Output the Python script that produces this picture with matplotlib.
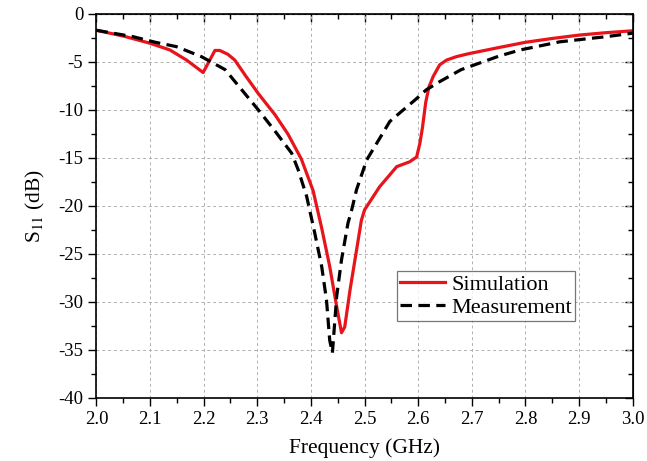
import numpy as np
import matplotlib.pyplot as plt
from matplotlib.ticker import MultipleLocator

# Simulation (red, solid)
sim_freq = [2.000, 2.050, 2.100, 2.137, 2.168, 2.199, 2.221, 2.230, 2.245, 2.258,
            2.277, 2.302, 2.333, 2.357, 2.382, 2.404, 2.420, 2.435, 2.448,
            2.457, 2.463, 2.473, 2.485, 2.494, 2.500, 2.528, 2.560, 2.584, 2.597,
            2.603, 2.608, 2.614, 2.620, 2.628, 2.640, 2.653, 2.671, 2.693, 2.750,
            2.800, 2.850, 2.900, 2.950, 3.000]
sim_s11 = [-1.7, -2.3, -3.05, -3.75, -4.8, -6.1, -3.8, -3.8, -4.2, -4.8,
           -6.35, -8.3, -10.5, -12.5, -15.1, -18.4, -22.3, -26.3, -30.5,
           -33.2, -32.6, -28.7, -24.6, -21.5, -20.4, -18.0, -15.9, -15.4, -14.9,
           -13.5, -11.8, -9.2, -7.6, -6.5, -5.3, -4.8, -4.45, -4.15, -3.5,
           -2.95, -2.55, -2.2, -1.95, -1.75]

# Measurement (black, dashed)
meas_freq = [2.000, 2.068, 2.110, 2.149, 2.196, 2.240, 2.271, 2.302, 2.333, 2.364,
             2.376, 2.392, 2.407, 2.420, 2.429, 2.435, 2.440, 2.448, 2.457, 2.469,
             2.476, 2.485, 2.504, 2.532, 2.547, 2.572, 2.594, 2.615, 2.640, 2.680,
             2.715, 2.750, 2.790, 2.864, 2.951, 3.000]
meas_s11 = [-1.7, -2.36, -2.95, -3.4, -4.45, -5.8, -7.9, -10.0, -12.2, -14.5,
            -16.2, -19.0, -22.8, -26.3, -29.8, -34.0, -35.3, -29.4, -25.6, -21.8,
            -20.4, -18.3, -15.2, -12.6, -11.2, -10.0, -8.96, -7.9, -7.05, -5.8,
            -5.1, -4.4, -3.75, -2.9, -2.36, -2.0]

x_ticks = [2.0, 2.1, 2.2, 2.3, 2.4, 2.5, 2.6, 2.7, 2.8, 2.9, 3.0]
y_ticks = [0, -5, -10, -15, -20, -25, -30, -35, -40]

plt.rcParams["font.family"] = ["Liberation Serif", "DejaVu Serif"]
plt.rcParams["mathtext.fontset"] = "stix"
plt.rcParams["axes.unicode_minus"] = False

fig = plt.figure(figsize=(6.47, 4.61), dpi=100)
ax = fig.add_axes([0.149, 0.1367, 0.829, 0.833])

ax.plot(sim_freq, sim_s11, color="#e8141b", lw=2.3, label="Simulation")
ax.plot(meas_freq, meas_s11, color="black", lw=2.3, ls=(0, (3.6, 2.0)),
        label="Measurement")

ax.set_xlim(2.0, 3.0)
ax.set_ylim(-40, 0)
ax.set_xticks(x_ticks)
ax.set_yticks(y_ticks)
ax.set_xticklabels([f"{v:.1f}" for v in x_ticks])
ax.xaxis.set_minor_locator(MultipleLocator(0.05))
ax.yaxis.set_minor_locator(MultipleLocator(2.5))

ax.grid(True, which="major", color="#b0b0b0", ls=(0, (3, 3)), lw=0.7)

# Origin-like ticks: outward on bottom/left, inward on top/right
ax.tick_params(which="both", direction="out", width=1.0, labelsize=13.5)
ax.tick_params(which="major", length=6)
ax.tick_params(which="minor", length=3.5)
sec_x = ax.secondary_xaxis("top")
sec_x.set_xticks(x_ticks)
sec_x.xaxis.set_minor_locator(MultipleLocator(0.05))
sec_x.tick_params(which="both", direction="in", labeltop=False, width=1.0)
sec_x.tick_params(which="major", length=6)
sec_x.tick_params(which="minor", length=3.5)
sec_y = ax.secondary_yaxis("right")
sec_y.set_yticks(y_ticks)
sec_y.yaxis.set_minor_locator(MultipleLocator(2.5))
sec_y.tick_params(which="both", direction="in", labelright=False, width=1.0)
sec_y.tick_params(which="major", length=6)
sec_y.tick_params(which="minor", length=3.5)
for s in ax.spines.values():
    s.set_linewidth(1.2)

ax.set_xlabel("Frequency (GHz)", fontsize=15.5, labelpad=7)
ax.set_ylabel(r"S$_{11}$ (dB)", fontsize=15.5, labelpad=8)

leg = ax.legend(loc="lower left", bbox_to_anchor=(0.56, 0.2), fontsize=16,
                frameon=True, fancybox=False, edgecolor="#555555",
                handlelength=2.0, handletextpad=0.3, borderpad=0.15,
                labelspacing=0.1, borderaxespad=0)
leg.get_frame().set_linewidth(0.9)

fig.savefig("out.png", dpi=100)
